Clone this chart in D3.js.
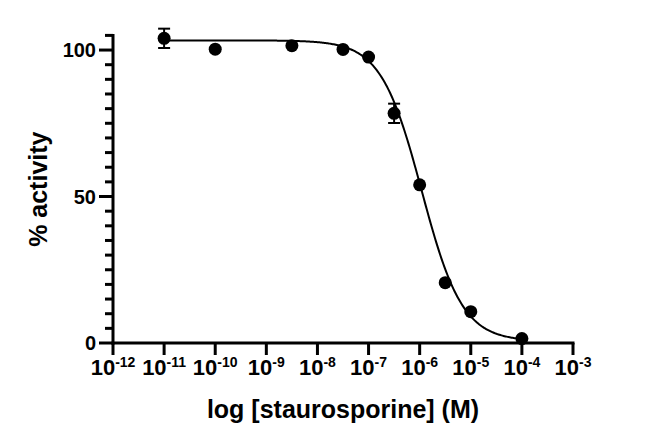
<!DOCTYPE html>
<html>
<head>
<meta charset="utf-8">
<script src="https://cdn.jsdelivr.net/npm/d3@7"></script>
<style>
  html, body { margin: 0; padding: 0; background: #fff; }
  svg { display: block; }
  text { font-family: "Liberation Sans", Arial, sans-serif; font-weight: bold; fill: #000; }
</style>
</head>
<body>
<svg id="chart" width="645" height="444"></svg>
<script>
// ---- data ----
const logConc   = [-11, -10, -8.5, -7.5, -7, -6.5, -6, -5.5, -5, -4];   // log10 [staurosporine] (M)
const activity  = [104, 100.3, 101.5, 100.2, 97.6, 78.4, 54, 20.6, 10.7, 1.5]; // % activity (mean)
const errorBars = [3.3, 0, 0, 0, 0, 3.3, 0, 0, 0, 0];                    // SEM
const xTickExp  = [-12, -11, -10, -9, -8, -7, -6, -5, -4, -3];           // tick exponents
const yTickMajor = [0, 50, 100];
const yTickMinor = [5, 10, 15, 20, 25, 30, 35, 40, 45, 55, 60, 65, 70, 75, 80, 85, 90, 95, 105];
// fitted 4-parameter logistic
const fitTop = 103.3, fitBottom = 0.6, fitLogIC50 = -5.96, fitHill = 1.09;
const fitRange = [-11, -4];

const svg = d3.select("#chart");
const x = d3.scaleLog().domain([1e-12, 1e-3]).range([113, 573]);
const y = d3.scaleLinear().domain([0, 105]).range([343, 35.4]);
const x0 = x(1e-12);

// ---- y axis ----
const yAxisG = svg.append("g");
yAxisG.append("line").attr("x1", x0).attr("x2", x0)
  .attr("y1", y(0) + 1.5).attr("y2", y(105) - 1.5)
  .attr("stroke", "#000").attr("stroke-width", 3);
yTickMinor.forEach(v => {
  yAxisG.append("line")
    .attr("x1", x0 - 8).attr("x2", x0).attr("y1", y(v)).attr("y2", y(v))
    .attr("stroke", "#000").attr("stroke-width", 3);
});
yTickMajor.forEach(v => {
  yAxisG.append("line")
    .attr("x1", x0 - 14).attr("x2", x0).attr("y1", y(v)).attr("y2", y(v))
    .attr("stroke", "#000").attr("stroke-width", 3);
  yAxisG.append("text")
    .attr("x", x0 - 17).attr("y", y(v)).attr("dy", "0.36em")
    .attr("text-anchor", "end").style("font-size", "20px")
    .text(v);
});

// ---- x axis ----
const xAxisG = svg.append("g").attr("transform", `translate(0,${y(0)})`);
xAxisG.append("line").attr("x1", x0 - 1.5).attr("x2", x(1e-3) + 1.5)
  .attr("y1", 0).attr("y2", 0).attr("stroke", "#000").attr("stroke-width", 3);
xAxisG.append("g").selectAll("line").data(xTickExp).join("line")
  .attr("x1", d => x(Math.pow(10, d))).attr("x2", d => x(Math.pow(10, d)))
  .attr("y1", 0).attr("y2", 12).attr("stroke", "#000").attr("stroke-width", 3);
const xl = xAxisG.append("g").selectAll("text").data(xTickExp).join("text")
  .attr("x", d => x(Math.pow(10, d))).attr("y", 32)
  .attr("text-anchor", "middle").style("font-size", "22px");
xl.append("tspan").text("10");
xl.append("tspan").attr("dy", -8).style("font-size", "14px").text(d => "-" + Math.abs(d));

// ---- fitted curve ----
const curve = d3.range(fitRange[0], fitRange[1] + 0.0001, 0.02).map(lx => ({
  lx, v: fitBottom + (fitTop - fitBottom) / (1 + Math.pow(10, (lx - fitLogIC50) * fitHill))
}));
svg.append("path").datum(curve)
  .attr("fill", "none").attr("stroke", "#000").attr("stroke-width", 2)
  .attr("d", d3.line().x(d => x(Math.pow(10, d.lx))).y(d => y(d.v)));

// ---- error bars ----
const pts = logConc.map((lx, i) => ({ lx, v: activity[i], e: errorBars[i] }));
const eb = svg.append("g");
pts.filter(p => p.e > 0).forEach(p => {
  const cx = x(Math.pow(10, p.lx));
  eb.append("line").attr("x1", cx).attr("x2", cx).attr("y1", y(p.v - p.e)).attr("y2", y(p.v + p.e))
    .attr("stroke", "#000").attr("stroke-width", 2);
  [p.v - p.e, p.v + p.e].forEach(v => eb.append("line")
    .attr("x1", cx - 6).attr("x2", cx + 6).attr("y1", y(v)).attr("y2", y(v))
    .attr("stroke", "#000").attr("stroke-width", 2));
});

// ---- points ----
svg.append("g").selectAll("circle").data(pts).join("circle")
  .attr("cx", d => x(Math.pow(10, d.lx))).attr("cy", d => y(d.v)).attr("r", 6.5)
  .attr("fill", "#000");

// ---- titles ----
svg.append("text").attr("x", (x0 + x(1e-3)) / 2).attr("y", 418)
  .attr("text-anchor", "middle").style("font-size", "25px")
  .text("log [staurosporine] (M)");
svg.append("text").attr("transform", `translate(47,${y(52.5)}) rotate(-90)`)
  .attr("text-anchor", "middle").style("font-size", "25px")
  .text("% activity");
</script>
</body>
</html>
